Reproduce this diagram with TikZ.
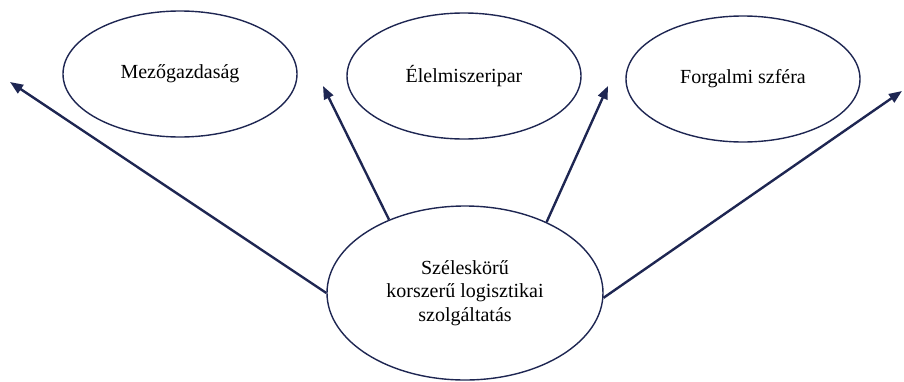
\documentclass[tikz,border=0pt]{standalone}
\usepackage{fontspec}
\setmainfont{Liberation Serif}
\usetikzlibrary{shapes.geometric,arrows.meta}
\definecolor{navy}{RGB}{30,38,82}
\begin{document}
\begin{tikzpicture}[x=1pt,y=-1pt,
  oval/.style={ellipse,draw=navy,line width=1.4pt,minimum width=234pt,minimum height=126pt,inner sep=0pt,font=\fontsize{20}{23.5}\selectfont,text=black},
  bigoval/.style={oval,minimum width=276pt,minimum height=174pt,align=center},
  arr/.style={draw=navy,line width=2.4pt,-{Triangle[length=13pt,width=10pt]}}]
\useasboundingbox (0,0) rectangle (904,381);
\node[oval] (m) at (180,74) {Mezőgazdaság};
\node[oval] (e) at (464,76) {Élelmiszeripar};
\node[oval] (f) at (743,79) {Forgalmi szféra};
\node[bigoval] (c) at (465,293) {Széleskörű\\korszerű logisztikai\\szolgáltatás};
\coordinate (t1) at (10,82);
\coordinate (t2) at (323,86);
\coordinate (t3) at (608,86);
\coordinate (t4) at (902,91);
\draw[arr] (c.180) -- (t1);
\draw[arr] (c.136.6) -- (t2);
\draw[arr] (c.41.2) -- (t3);
\draw[arr] (c.-2) -- (t4);
\end{tikzpicture}
\end{document}
